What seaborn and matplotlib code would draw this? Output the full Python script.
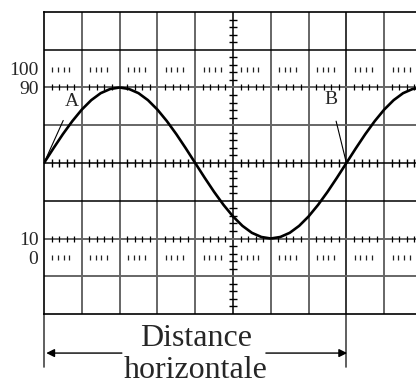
import matplotlib
matplotlib.use('Agg')
import matplotlib.pyplot as plt
import seaborn as sns
import pandas as pd

# ---- data (x in screen divisions, y in display units) ----
divisions = [0, 0.25, 0.5, 0.75, 1, 1.25, 1.5, 1.75, 2, 2.25, 2.5, 2.75, 3, 3.25, 3.5, 3.75,
             4, 4.25, 4.5, 4.75, 5, 5.25, 5.5, 5.75, 6, 6.25, 6.5, 6.75, 7, 7.25, 7.5, 7.75,
             8, 8.25, 8.5, 8.75, 9, 9.25, 9.5, 9.75, 10]
signal = [50, 57.8, 65.3, 72.2, 78.3, 83.3, 87.0, 89.2, 90, 89.2, 87.0, 83.3, 78.3, 72.2, 65.3, 57.8,
          50, 42.2, 34.7, 27.8, 21.7, 16.7, 13.0, 10.8, 10, 10.8, 13.0, 16.7, 21.7, 27.8, 34.7, 42.2,
          50, 57.8, 65.3, 72.2, 78.3, 83.3, 87.0, 89.2, 90]
ytick_values = [0, 10, 90, 100]
ytick_labels = ['0', '10', '90', '100']
point_labels = ['A', 'B']
caption_lines = ['Distance', 'horizontale']

sns.set_style('white')
plt.rcParams['font.family'] = ['Liberation Serif', 'DejaVu Serif']

fig = plt.figure(figsize=(4.16, 3.85), dpi=100)
ax = fig.add_axes([44 / 416, 71 / 385, 378 / 416, 302 / 385])
ax.set_xlim(0, 10)
ax.set_ylim(-30, 130)

# grid
for gx in range(1, 10):
    dark = gx in (5, 8)
    ax.axvline(gx, color='k' if dark else '#666666', lw=1.1 if dark else 1.4, zorder=1)
for gy in range(-10, 111, 20):
    dark = gy in (50, 110, 30)
    ax.axhline(gy, color='k' if dark else '#666666', lw=1.1 if dark else 1.4, zorder=1)

# fine graduation marks on the central axes
fine_x = [i * 0.2 for i in range(51) if i % 5]
fine_y = [-30 + 4 * i for i in range(41) if i % 5]
ax.plot(fine_x, [50] * len(fine_x), ls='none', marker='|', ms=6, mew=1.0, color='k', zorder=2)
ax.plot([5] * len(fine_y), fine_y, ls='none', marker='_', ms=6, mew=1.0, color='k', zorder=2)
for level in (90, 10):
    ax.plot(fine_x, [level] * len(fine_x), ls='none', marker='|', ms=4, mew=0.9, color='k', zorder=2)

# dashed reference rows at 100 and 0
dash_x = [k + f for k in range(10) for f in (0.22, 0.37, 0.52, 0.67)]
for level in (100, 0):
    ax.plot(dash_x, [level] * len(dash_x), ls='none', marker='|', ms=3.6, mew=0.9, color='#222222', zorder=2)

# signal
df = pd.DataFrame({'x': divisions, 'y': signal})
sns.lineplot(data=df, x='x', y='y', ax=ax, color='k', lw=1.9, zorder=5, estimator=None, sort=False)

# point labels
ax.annotate(point_labels[0], xy=(divisions[0], signal[0]), xytext=(0.74, 82.8),
            ha='center', va='center', fontsize=14,
            arrowprops=dict(arrowstyle='-', lw=0.8, color='k', shrinkA=6, shrinkB=0))
ax.annotate(point_labels[1], xy=(divisions[32], signal[32]), xytext=(7.59, 83.4),
            ha='center', va='center', fontsize=14,
            arrowprops=dict(arrowstyle='-', lw=0.8, color='k', shrinkA=7, shrinkB=0))

# axes look
for s in ax.spines.values():
    s.set_color('k')
    s.set_linewidth(1.2)
ax.set_xticks([])
ax.set_yticks(ytick_values, ytick_labels)
ax.tick_params(axis='y', length=0, pad=4, labelsize=14)
ax.set_xlabel('')
ax.set_ylabel('')

# horizontal distance dimension below
for bx in (divisions[0], divisions[32]):
    ax.plot([bx, bx], [-30, -58.1], color='#444444', lw=1.2, clip_on=False)
ax.annotate('', xy=(0.06, -50.7), xytext=(2.06, -50.7), annotation_clip=False,
            arrowprops=dict(arrowstyle='-|>', color='k', lw=1.0, mutation_scale=12, shrinkA=0, shrinkB=0))
ax.annotate('', xy=(8.02, -50.7), xytext=(5.87, -50.7), annotation_clip=False,
            arrowprops=dict(arrowstyle='-|>', color='k', lw=1.0, mutation_scale=12, shrinkA=0, shrinkB=0))
ax.text(4.02, -47.0, caption_lines[0], ha='center', va='baseline', fontsize=23, clip_on=False)
ax.text(4.02, -64.0, caption_lines[1], ha='center', va='baseline', fontsize=23, clip_on=False)

fig.savefig('out.png', dpi=100)
